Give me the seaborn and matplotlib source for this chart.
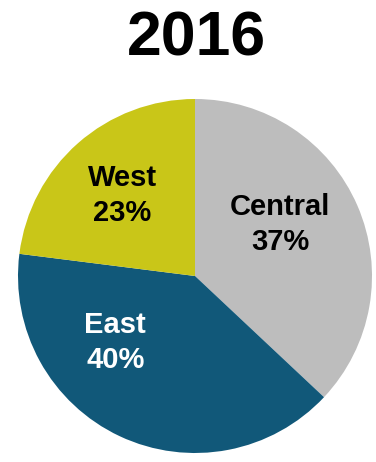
import matplotlib
matplotlib.use("Agg")
import matplotlib.pyplot as plt
import seaborn as sns

# Regional share for the year
regions = ["Central", "East", "West"]
shares = [37, 40, 23]
colors_hex = ["#BDBDBD", "#115879", "#C9C618"]
label_colors = ["black", "white", "black"]
year_title = "2016"

sns.set_theme(style="white")
plt.rcParams["font.family"] = ["Liberation Sans", "DejaVu Sans"]

palette = sns.color_palette(colors_hex)

fig = plt.figure(figsize=(3.76, 4.62), dpi=100)
ax = fig.add_axes([18 / 376, 9 / 462, 354 / 376, 354 / 462])

wedges, _ = ax.pie(
    shares,
    colors=palette,
    startangle=90,
    counterclock=False,
    radius=1.0,
    wedgeprops=dict(linewidth=0),
)
ax.set_xlim(-1, 1)
ax.set_ylim(-1, 1)
ax.set_aspect("equal")
ax.axis("off")

# label anchor points inside each slice (axes data units)
label_xy = [(0.48, 0.29), (-0.45, -0.375), (-0.41, 0.455)]
for name, val, col, (lx, ly) in zip(regions, shares, label_colors, label_xy):
    ax.text(lx, ly, f"{name}\n{val}%", ha="center", va="center",
            fontsize=21, fontweight="bold", color=col, linespacing=1.3)

fig.text(196 / 376, 1 - 55 / 462, year_title, ha="center", va="baseline",
         fontsize=45, fontweight="bold", color="black")

fig.savefig("out.png", dpi=100, facecolor="white")
